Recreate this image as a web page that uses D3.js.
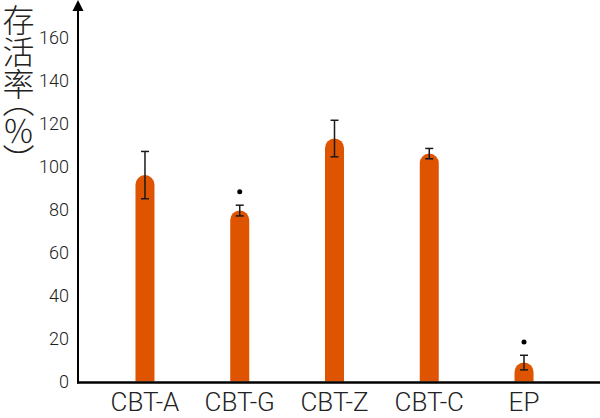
<!DOCTYPE html>
<html>
<head>
<meta charset="utf-8">
<script src="https://cdn.jsdelivr.net/npm/d3@7/dist/d3.min.js"></script>
<style>
  html, body { margin: 0; padding: 0; background: #fff; }
  svg { display: block; }
</style>
</head>
<body>
<svg id="chart" width="600" height="418"></svg>
<script>
const categories = ["CBT-A", "CBT-G", "CBT-Z", "CBT-C", "EP"];
const means = [96, 79.5, 113, 106, 8.8];
const errors = [11, 2.5, 8.5, 2.4, 3.4];
const markers = [null, 88.3, null, null, 18.4];
const yTicks = [0, 20, 40, 60, 80, 100, 120, 140, 160];
const yLabel = "存活率（％）";

const svg = d3.select("#chart");
const x = d3.scaleBand().domain(categories).range([97.6, 571.4]).padding(0);
const y = d3.scaleLinear().domain([0, 160]).range([381.5, 37.5]);
const barW = 19, r = barW / 2;
const color = "#df5400";

// bars with rounded tops
const data = categories.map((c, i) => ({ c, m: means[i], e: errors[i], k: markers[i] }));
svg.append("g").selectAll("path").data(data).join("path")
  .attr("fill", color)
  .attr("d", d => {
    const cx = x(d.c) + x.bandwidth() / 2;
    const top = y(d.m), base = y(0);
    const x0 = cx - r, x1 = cx + r;
    return `M${x0},${base} L${x0},${top + r} A${r},${r} 0 0 1 ${x1},${top + r} L${x1},${base} Z`;
  });

// error bars
const eg = svg.append("g").attr("stroke", "#1a1a1a").attr("stroke-width", 1.5);
data.forEach(d => {
  const cx = x(d.c) + x.bandwidth() / 2;
  const y1 = y(d.m + d.e), y2 = y(d.m - d.e);
  eg.append("line").attr("x1", cx).attr("x2", cx).attr("y1", y1).attr("y2", y2);
  eg.append("line").attr("x1", cx - 4).attr("x2", cx + 4).attr("y1", y1).attr("y2", y1);
  eg.append("line").attr("x1", cx - 4).attr("x2", cx + 4).attr("y1", y2).attr("y2", y2);
});

// significance dots
svg.append("g").selectAll("circle").data(data.filter(d => d.k != null)).join("circle")
  .attr("cx", d => x(d.c) + x.bandwidth() / 2)
  .attr("cy", d => y(d.k))
  .attr("r", 2.5)
  .attr("fill", "#000");

// y axis
const yAxis = d3.axisLeft(y).tickValues(yTicks).tickSize(0).tickPadding(9);
const gy = svg.append("g").attr("transform", "translate(78,0)").call(yAxis);
gy.select(".domain").remove();
gy.selectAll("text")
  .attr("font-family", "Roboto, sans-serif")
  .attr("font-weight", 300)
  .attr("font-size", 18)
  .attr("fill", "#222");

svg.append("line").attr("x1", 78).attr("x2", 78).attr("y1", 383.5).attr("y2", 8)
  .attr("stroke", "#000").attr("stroke-width", 2);
svg.append("path").attr("d", "M78,0 L83.5,11 L72.5,11 Z").attr("fill", "#000");

// x axis
const xAxis = d3.axisBottom(x).tickSize(0).tickPadding(10);
const gx = svg.append("g").attr("transform", "translate(0,382.5)").call(xAxis);
gx.select(".domain").remove();
gx.selectAll("text")
  .attr("font-family", "Roboto, sans-serif")
  .attr("font-weight", 300)
  .attr("font-size", 26)
  .attr("fill", "#222");
svg.append("line").attr("x1", 77).attr("x2", 600).attr("y1", 382.5).attr("y2", 382.5)
  .attr("stroke", "#000").attr("stroke-width", 2.5);

// y label (vertical)
svg.append("text")
  .attr("x", 18.5).attr("y", 4)
  .attr("font-family", "'Noto Sans CJK SC', sans-serif")
  .attr("font-weight", 300)
  .attr("font-size", 32)
  .attr("fill", "#222")
  .style("writing-mode", "vertical-rl")
  .style("font-feature-settings", "'vpal' 1")
  .text(yLabel);
</script>
</body>
</html>
